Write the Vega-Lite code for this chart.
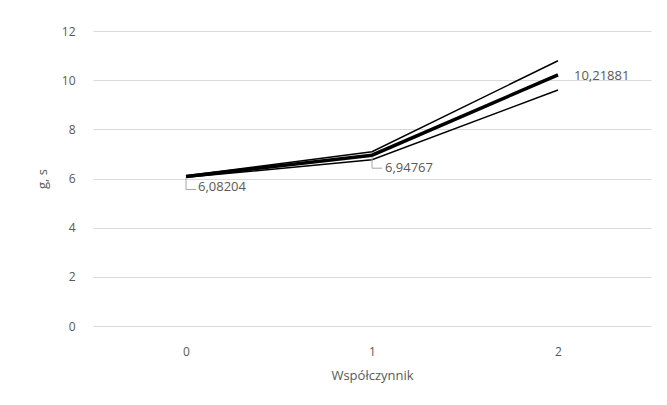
{
  "$schema": "https://vega.github.io/schema/vega-lite/v6.json",
  "width": 558,
  "height": 295,
  "autosize": {"type": "none"},
  "padding": {"left": 93, "top": 31, "right": 16, "bottom": 79},
  "background": "white",
  "config": {
    "view": {"stroke": null},
    "font": "Open Sans",
    "axis": {"labelColor": "#595959", "titleColor": "#595959", "labelFontSize": 12, "titleFontSize": 13, "titleFontWeight": "normal"}
  },
  "data": {
    "values": [
      {"series": "upper", "x": "0", "v": 6.11},
      {"series": "upper", "x": "1", "v": 7.09},
      {"series": "upper", "x": "2", "v": 10.79},
      {"series": "mid", "x": "0", "v": 6.08204},
      {"series": "mid", "x": "1", "v": 6.94767},
      {"series": "mid", "x": "2", "v": 10.21881},
      {"series": "lower", "x": "0", "v": 6.05},
      {"series": "lower", "x": "1", "v": 6.76},
      {"series": "lower", "x": "2", "v": 9.6}
    ]
  },
  "encoding": {
    "x": {"field": "x", "type": "ordinal", "scale": {"type": "point", "padding": 0.5},
      "axis": {"title": "Współczynnik", "labelAngle": 0, "ticks": false, "domain": false, "labelPadding": 20, "titlePadding": 12, "grid": false}},
    "y": {"field": "v", "type": "quantitative", "scale": {"domain": [0, 12], "nice": false},
      "axis": {"title": "g, s", "values": [0, 2, 4, 6, 8, 10, 12], "labelOverlap": false, "ticks": false, "domain": false, "gridColor": "#d9d9d9", "labelPadding": 18, "titlePadding": 12}}
  },
  "layer": [
    {
      "transform": [{"filter": "datum.series !== 'mid'"}],
      "mark": {"type": "line", "color": "black", "strokeWidth": 1.5},
      "encoding": {"detail": {"field": "series"}}
    },
    {
      "transform": [{"filter": "datum.series === 'mid'"}],
      "mark": {"type": "line", "color": "black", "strokeWidth": 3.5}
    },
    {
      "transform": [{"filter": "datum.series === 'mid' && datum.x !== '2'"}],
      "mark": {"type": "point", "shape": "M0,0.15 V1.3 H1.0", "size": 400, "filled": false, "stroke": "#a6a6a6", "strokeWidth": 1, "opacity": 1}
    },
    {
      "transform": [{"filter": "datum.series === 'mid' && datum.x === '0'"}],
      "mark": {"type": "text", "align": "left", "baseline": "middle", "dx": 12, "dy": 11, "fontSize": 13, "color": "#595959"},
      "encoding": {"text": {"value": "6,08204"}}
    },
    {
      "transform": [{"filter": "datum.series === 'mid' && datum.x === '1'"}],
      "mark": {"type": "text", "align": "left", "baseline": "middle", "dx": 13, "dy": 13, "fontSize": 13, "color": "#595959"},
      "encoding": {"text": {"value": "6,94767"}}
    },
    {
      "transform": [{"filter": "datum.series === 'mid' && datum.x === '2'"}],
      "mark": {"type": "text", "align": "left", "baseline": "middle", "dx": 16, "dy": 1, "fontSize": 13, "color": "#595959"},
      "encoding": {"text": {"value": "10,21881"}}
    }
  ]
}
